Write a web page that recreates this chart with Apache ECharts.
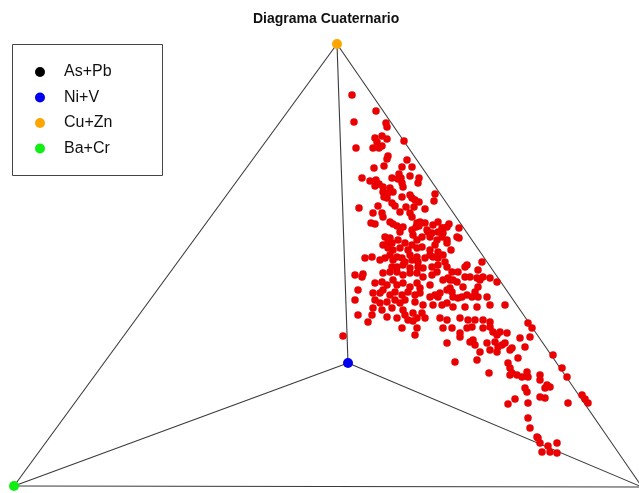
<!DOCTYPE html>
<html>
<head>
<meta charset="utf-8">
<script src="https://cdn.jsdelivr.net/npm/echarts@6/dist/echarts.min.js"></script>
<style>
  html, body { margin: 0; padding: 0; background: #fff; }
  #chart { width: 639px; height: 493px; }
</style>
</head>
<body>
<div id="chart"></div>
<script>
// Projected plane of the quaternary diagram: x to the right, y downward.
const planeWidth = 639;
const planeHeight = 493;

// End-members (tetrahedron vertices) and their legend entries
const vertexNames = ['As+Pb', 'Ni+V', 'Cu+Zn', 'Ba+Cr'];
const vertexColors = ['#000000', '#0000ee', '#ffa500', '#11ee11'];
const vertexX = [642, 348, 337, 14];
const vertexY = [487, 363, 44, 486];

// Tetrahedron edges, as pairs of vertex indices
const edges = [[2, 3], [2, 0], [3, 0], [1, 2], [1, 3], [1, 0]];

// Projected sample compositions [x, y]
const samples = [
  [352,95],[376,111],[354,122],[386,123],[387,127],[382,136],[375,138],[377,142],[387,139],[404,141],
  [356,148],[373,148],[379,148],[382,146],[388,156],[387,159],[407,160],[384,166],[402,167],[412,167],
  [374,168],[399,174],[410,176],[401,178],[362,178],[392,178],[398,179],[419,178],[370,181],[376,180],
  [379,184],[402,183],[403,187],[418,183],[375,186],[383,187],[390,188],[383,192],[388,193],[393,192],
  [384,197],[387,198],[402,197],[410,195],[412,198],[415,200],[419,202],[392,203],[395,206],[359,208],
  [378,206],[406,207],[414,207],[400,212],[410,213],[412,217],[373,213],[382,213],[383,217],[390,222],
  [393,224],[397,226],[371,223],[375,224],[417,223],[419,226],[416,227],[403,227],
  [435,194],[434,201],[425,209],[420,222],[425,223],[433,225],[438,222],[442,228],[443,233],[447,227],
  [449,224],[459,228],[457,237],[459,238],[428,232],[430,237],[437,240],
  [385,237],[390,238],[388,242],[392,243],[400,232],[398,240],[412,230],[413,235],[417,240],[422,237],
  [427,230],[432,233],[438,232],[443,228],[442,237],[447,240],
  [383,245],[388,248],[393,250],[400,248],[405,243],[408,250],[412,245],[417,248],[422,247],[430,250],
  [435,245],[438,252],[443,255],
  [365,258],[372,257],[380,260],[385,258],[390,255],[393,260],[397,257],[402,258],[405,262],[410,255],
  [412,260],[417,257],[418,262],[425,258],[430,255],[433,257],[438,258],
  [392,267],[397,267],[403,265],[410,268],[418,267],[423,268],[432,267],[438,265],[447,267],[445,262],
  [355,275],[362,277],[363,274],[383,273],[390,272],[397,272],[403,275],[410,273],[417,273],[423,277],
  [432,275],[437,272],[443,280],[448,278],
  [375,283],[382,282],[387,285],[393,280],[397,285],[403,283],[410,287],[417,283],[420,288],[430,285],
  [440,293],[447,290],[358,290],
  [373,293],[380,293],[383,290],[390,295],[395,292],[402,295],[408,292],[415,295],[420,293],[430,297],
  [435,295],[438,297],
  [355,300],[375,300],[380,303],[387,302],[395,300],[400,303],[405,300],[415,302],[423,305],[433,305],
  [442,305],[447,303],
  [373,308],[382,310],[392,308],[403,310],[413,313],[422,313],
  [358,315],[372,315],[387,317],[397,318],[405,315],[408,320],[417,318],[425,318],[440,318],[447,320],
  [402,328],[417,328],[415,335],[343,336],[368,322],[413,321],
  [447,243],[451,250],[482,262],[467,265],[452,272],[458,272],[465,267],[478,270],[450,280],[453,280],
  [457,282],[465,277],[470,277],[477,278],[480,280],[483,277],[490,278],[497,282],[450,288],[452,292],
  [463,287],[478,287],[475,292],[453,297],[458,298],[462,297],[467,295],[472,297],[478,297],[487,297],
  [453,307],[465,307],[477,307],[490,305],[505,305],
  [460,318],[468,320],[475,320],[483,320],[490,322],[528,323],[532,328],[443,328],[452,328],[460,333],
  [467,328],[472,327],[483,328],[490,327],[493,332],[500,332],[497,335],[507,333],[447,343],[460,337],
  [470,342],[473,340],[475,345],[487,343],[495,342],[498,347],[502,345],[505,343],[512,348],[520,338],
  [530,337],[525,347],[480,352],[490,350],[497,352],[510,350],[455,362],[477,360],[508,363],[518,358],
  [553,355],[562,368],[567,377],[510,368],[512,373],[517,375],[522,377],[527,372],[528,377],[510,375],
  [489,373],[540,375],[540,380],[545,388],[550,387],[547,385],[525,388],[527,392],[540,397],[545,398],
  [515,399],[508,404],[528,403],[568,403],[582,395],[585,399],[588,403],[528,418],[530,428],[537,437],
  [538,438],[540,443],[548,446],[557,443],[542,452],[550,452],[557,453]
];

const chart = echarts.init(document.getElementById('chart'), null, { renderer: 'canvas' });

const edgeLines = edges.map(([a, b]) => ({
  coords: [[vertexX[a], vertexY[a]], [vertexX[b], vertexY[b]]]
}));

const vertexSeries = vertexNames.map((name, i) => ({
  name: name,
  type: 'scatter',
  data: [[vertexX[i], vertexY[i]]],
  symbol: 'circle',
  symbolSize: 10,
  itemStyle: { color: vertexColors[i], opacity: 1 },
  silent: true,
  z: 4
}));

// Legend box drawn from the end-member arrays
const legendLeft = 12, legendTop = 44, legendW = 150, legendH = 131;
const legendGraphics = [{
  type: 'rect',
  shape: { x: legendLeft + 0.5, y: legendTop + 0.5, width: legendW, height: legendH },
  style: { fill: '#fff', stroke: '#444', lineWidth: 1 },
  z: 10
}];
vertexNames.forEach((name, i) => {
  const cy = 72 + i * 25.5;
  legendGraphics.push({
    type: 'circle',
    shape: { cx: 40, cy: cy, r: 5 },
    style: { fill: vertexColors[i] },
    z: 11
  });
  legendGraphics.push({
    type: 'text',
    x: 64, y: cy,
    style: {
      text: name,
      fill: '#111',
      font: '16px "Liberation Sans", Arial, sans-serif',
      verticalAlign: 'middle',
      align: 'left'
    },
    z: 11
  });
});

chart.setOption({
  animation: false,
  backgroundColor: '#ffffff',
  title: {
    text: 'Diagrama Cuaternario',
    left: 248,
    top: 7,
    textStyle: {
      fontFamily: '"Liberation Sans", Arial, sans-serif',
      fontSize: 14,
      fontWeight: 'bold',
      color: '#111'
    }
  },
  grid: { left: 0, right: 0, top: 0, bottom: 0 },
  xAxis: {
    type: 'value', min: 0, max: planeWidth, show: false,
    splitLine: { show: false }
  },
  yAxis: {
    type: 'value', min: 0, max: planeHeight, inverse: true, show: false,
    splitLine: { show: false }
  },
  graphic: legendGraphics,
  series: [
    {
      type: 'lines',
      coordinateSystem: 'cartesian2d',
      data: edgeLines,
      lineStyle: { color: '#3a3a3a', width: 1.1, opacity: 1 },
      silent: true,
      z: 2
    },
    {
      name: 'Muestras',
      type: 'scatter',
      data: samples,
      symbol: 'circle',
      symbolSize: 7.5,
      itemStyle: { color: '#ea0000', opacity: 1 },
      silent: true,
      z: 3
    },
    ...vertexSeries
  ]
});
</script>
</body>
</html>
